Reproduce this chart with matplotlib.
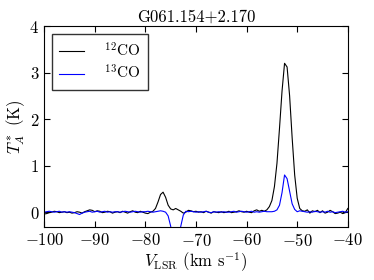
import numpy as np
import matplotlib
matplotlib.use("Agg")
import matplotlib.pyplot as plt

plt.rcParams['font.family'] = 'cmr10'
plt.rcParams['mathtext.fontset'] = 'cm'
plt.rcParams['axes.formatter.use_mathtext'] = True
plt.rcParams['font.size'] = 12

# velocity channels (km/s), 0.5 km/s spacing
vel = np.arange(-100, -39.9, 0.5)

# 12CO brightness temperature (K)
t12 = [-0.04, -0.03, -0.01, 0.00, 0.02, 0.01, -0.01, 0.00, 0.01, -0.01,
       0.00, -0.02, -0.01, 0.01, 0.00, -0.02, 0.01, 0.03, 0.05, 0.04,
       0.01, 0.03, 0.02, -0.01, 0.00, 0.02, 0.01, -0.02, 0.00, 0.01,
       -0.01, 0.02, 0.00, -0.02, 0.01, 0.03, 0.00, -0.01, 0.02, 0.00,
       -0.02, -0.03, 0.00, 0.02, 0.08, 0.22, 0.38, 0.43, 0.32, 0.15,
       0.07, 0.05, 0.08, 0.05, 0.02, -0.02, 0.00, 0.04, 0.03, 0.01,
       0.02, 0.00, 0.01, -0.01, 0.02, 0.00, -0.02, 0.01, 0.00, -0.01,
       0.01, -0.01, 0.00, 0.02, -0.01, 0.00, 0.01, 0.03, 0.01, 0.00,
       0.02, 0.00, -0.01, 0.03, 0.05, 0.02, 0.04, 0.02, 0.05, 0.12,
       0.25, 0.55, 1.05, 1.80, 2.60, 3.20, 3.12, 2.50, 1.60, 0.80,
       0.30, 0.08, 0.03, 0.02, 0.05, -0.02, 0.03, 0.01, 0.04, -0.01,
       0.03, -0.02, 0.00, 0.04, 0.01, -0.03, -0.02, 0.00, -0.03, -0.01,
       0.08]

# 13CO brightness temperature (K)
t13 = [0.00, 0.01, 0.02, 0.01, 0.00, 0.01, 0.02, 0.00, 0.01, 0.00,
       0.01, 0.00, -0.01, -0.03, -0.05, -0.02, 0.00, 0.01, 0.02, 0.00,
       0.01, 0.02, 0.00, 0.01, 0.02, 0.00, 0.01, 0.00, 0.01, 0.01,
       0.00, 0.01, 0.02, 0.01, 0.00, 0.01, 0.02, 0.01, 0.00, 0.01,
       0.01, 0.02, 0.01, 0.00, 0.01, 0.02, 0.03, 0.02, 0.00, -0.08,
       -0.30, -0.65, -0.85, -0.65, -0.30, -0.06, 0.02, 0.01, 0.02, 0.01,
       0.00, 0.01, 0.00, 0.01, 0.02, 0.00, -0.01, 0.01, 0.00, 0.01,
       0.00, 0.01, 0.00, 0.00, 0.01, 0.02, 0.00, 0.01, 0.02, 0.01,
       0.00, 0.01, 0.02, 0.00, 0.01, 0.00, 0.01, 0.02, 0.01, 0.01,
       0.01, 0.02, 0.05, 0.15, 0.42, 0.80, 0.72, 0.45, 0.18, 0.06,
       0.01, 0.03, 0.02, 0.01, 0.00, 0.01, 0.00, 0.02, 0.01, 0.00,
       0.01, 0.00, 0.02, 0.00, 0.01, -0.01, 0.00, 0.01, 0.02, 0.00,
       0.01]

fig = plt.figure(figsize=(3.74, 2.8), dpi=100)
ax = fig.add_axes([0.118, 0.189, 0.812, 0.718])

ax.plot(vel, t12, color='k', lw=0.8, label=r'$^{12}$CO')
ax.plot(vel, t13, color='b', lw=0.8, label=r'$^{13}$CO')

ax.set_xlim(-100, -40)
ax.set_ylim(-0.32, 4)
ax.set_xticks(np.arange(-100, -39, 10))
ax.set_yticks([0, 1, 2, 3, 4])
ax.tick_params(direction='in', top=True, right=True, length=4)
ax.set_title('G061.154+2.170', fontsize=12, pad=3)
ax.set_xlabel(r'$V_{\rm LSR}$ (km s$^{-1}$)', labelpad=1)
ax.set_ylabel(r'$T_A^*$ (K)', labelpad=2)

leg = ax.legend(loc='upper left', fancybox=False, handlelength=1.6,
                handletextpad=1.3, borderpad=0.5, labelspacing=0.3,
                borderaxespad=0.5, fontsize=11)
leg.get_frame().set_edgecolor('k')

fig.savefig('out.png', dpi=100)
